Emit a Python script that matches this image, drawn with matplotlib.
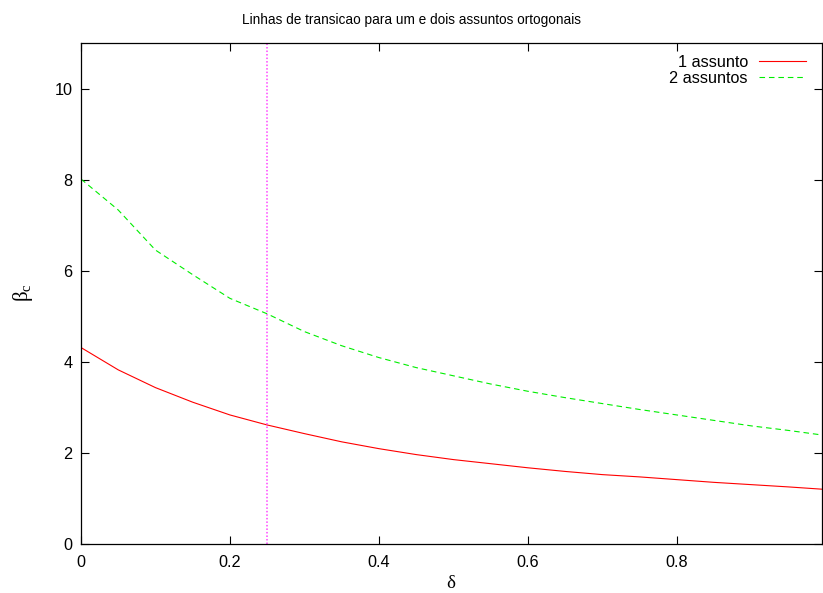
import matplotlib
matplotlib.use("Agg")
import matplotlib.pyplot as plt

plt.rcParams["font.family"] = ["Liberation Sans", "DejaVu Sans"]
plt.rcParams["mathtext.fontset"] = "custom"
plt.rcParams["mathtext.rm"] = "Liberation Serif"
plt.rcParams["mathtext.it"] = "Liberation Serif"

# transition lines beta_c(delta)
delta = [0.0, 0.05, 0.1, 0.15, 0.2, 0.25, 0.3, 0.35, 0.4, 0.45, 0.5,
         0.55, 0.6, 0.65, 0.7, 0.75, 0.8, 0.85, 0.9, 0.95, 0.995]
beta_um = [4.32, 3.83, 3.44, 3.12, 2.84, 2.62, 2.43, 2.25, 2.10, 1.97, 1.86,
           1.77, 1.68, 1.60, 1.53, 1.48, 1.42, 1.36, 1.31, 1.26, 1.21]
beta_dois = [8.02, 7.34, 6.46, 5.92, 5.40, 5.06, 4.67, 4.36, 4.10, 3.88, 3.70,
             3.52, 3.36, 3.22, 3.09, 2.96, 2.84, 2.72, 2.60, 2.50, 2.40]
delta_marca = 0.25

x_ticks = [0, 0.2, 0.4, 0.6, 0.8]
x_tick_labels = ["0", "0.2", "0.4", "0.6", "0.8"]
y_ticks = [0, 2, 4, 6, 8, 10]
series_labels = ["1 assunto", "2 assuntos"]

W, H = 823, 593
fig = plt.figure(figsize=(W / 100, H / 100), dpi=100)
ax = fig.add_axes([81 / W, (H - 544.3) / H, (822 - 81) / W, (544.3 - 43.3) / H])

l1, = ax.plot(delta, beta_um, color="#ff0000", lw=0.8, label=series_labels[0])
l2, = ax.plot(delta, beta_dois, color="#00ee00", lw=0.8, dashes=(5, 3.5),
              label=series_labels[1])
ax.axvline(delta_marca, color="#ff44ff", lw=1.1, linestyle=(0, (1, 1.3)))

ax.set_xlim(0, 0.995)
ax.set_ylim(0, 11)
ax.set_xticks(x_ticks)
ax.set_xticklabels(x_tick_labels)
ax.set_yticks(y_ticks)

for s in ax.spines.values():
    s.set_linewidth(0.9)
    s.set_color("black")
ax.tick_params(direction="in", length=6, width=0.8, top=True, right=True,
               labelsize=11.7, colors="black")
ax.tick_params(axis="x", pad=8)
ax.tick_params(axis="y", pad=6)

fig.text(411.5 / W, 1 - 20 / H, "Linhas de transicao para um e dois assuntos ortogonais",
         ha="center", va="center", fontsize=9.8)
fig.text(23 / W, 1 - 293 / H, r"$\beta_c$", rotation=90, ha="center", va="center",
         fontsize=15)
fig.text(451.5 / W, 1 - 583 / H, r"$\delta$", ha="center", va="center", fontsize=13.5)

leg = ax.legend(handles=[l1, l2], labels=series_labels, loc="upper right",
                bbox_to_anchor=(0.992, 0.997),
                frameon=False, markerfirst=False, fontsize=11.7,
                handlelength=2.9, handletextpad=0.7, labelspacing=0.08,
                borderaxespad=0.3, borderpad=0.3)
for t in leg.get_texts():
    t.set_ha("right")

fig.savefig("out.png", dpi=100)
